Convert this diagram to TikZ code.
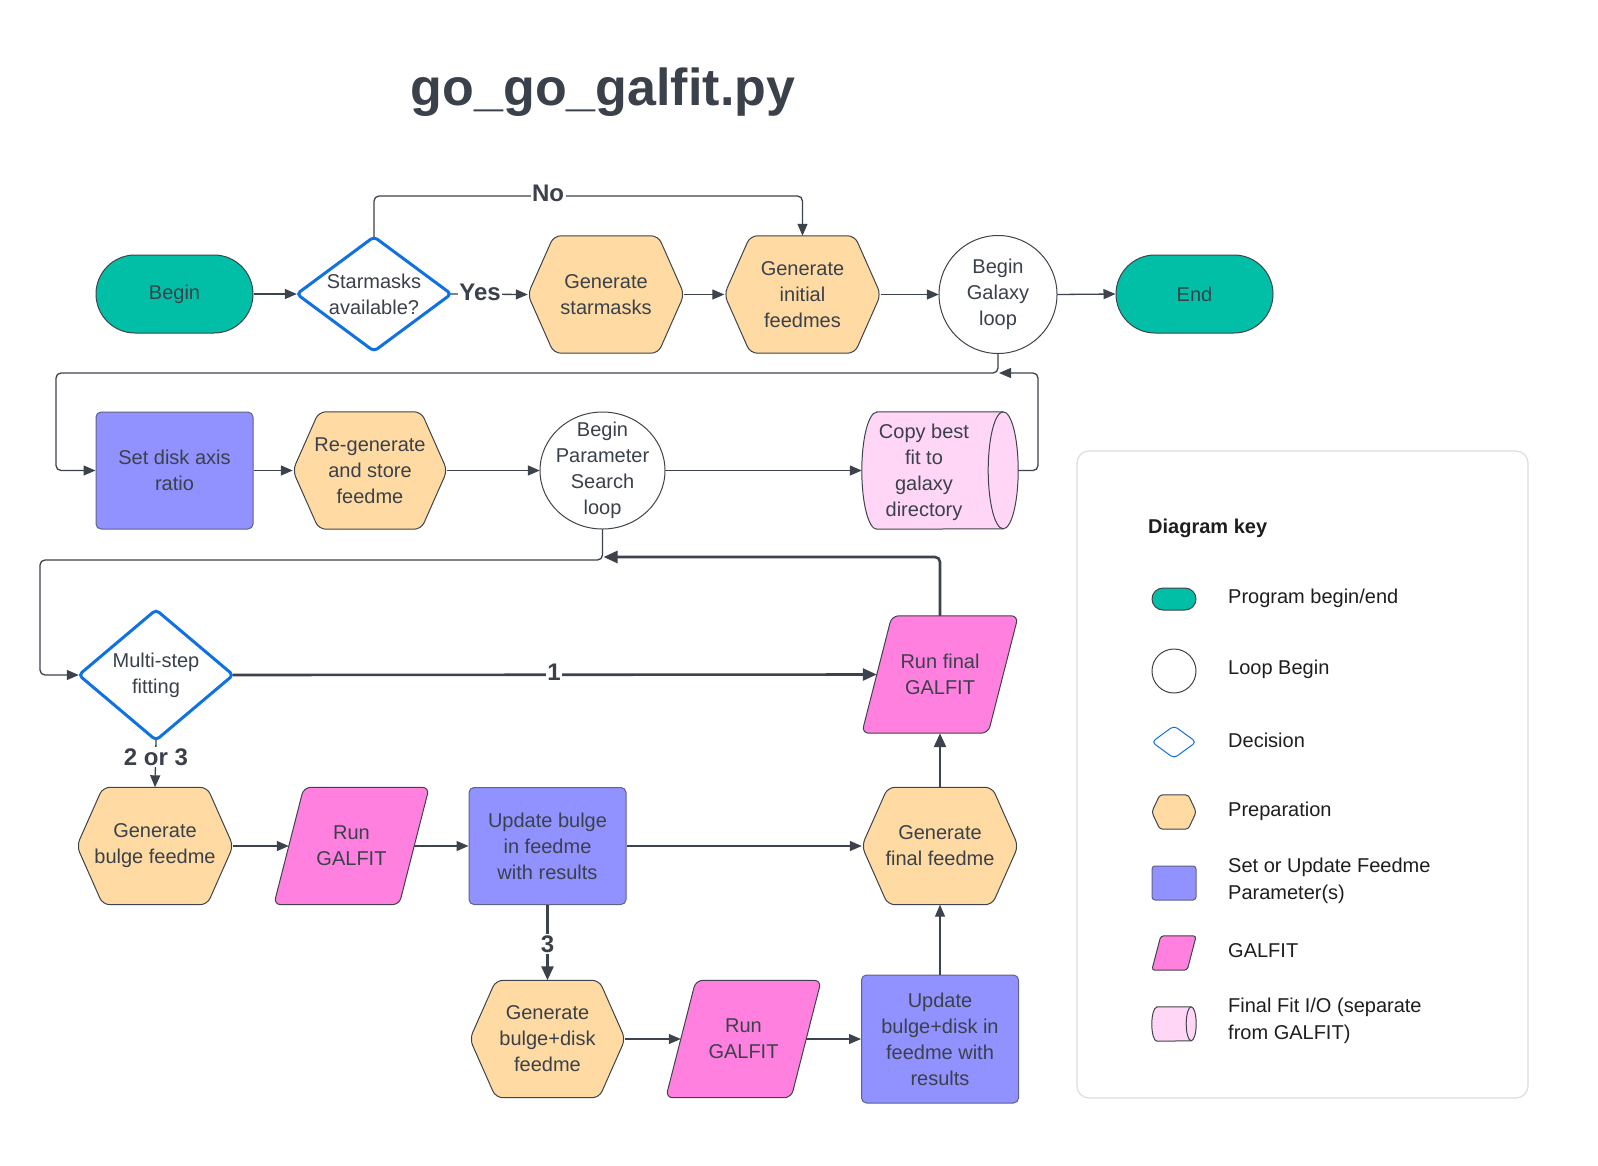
\documentclass[tikz,border=0pt]{standalone}
\usepackage{fontspec}
\setmainfont{Liberation Sans}
\usetikzlibrary{arrows.meta,shapes.geometric}
\definecolor{txt}{HTML}{3A414A}
\definecolor{ln}{HTML}{3D434C}
\definecolor{cTeal}{HTML}{00BFA6}
\definecolor{cOrange}{HTML}{FFDBA3}
\definecolor{cPurple}{HTML}{9191FF}
\definecolor{cPink}{HTML}{FF80DF}
\definecolor{cLpink}{HTML}{FFD6F6}
\definecolor{cBlue}{HTML}{1071E5}
\definecolor{cBorder}{HTML}{3F434B}
\definecolor{cBorderP}{HTML}{5F628A}
\definecolor{cKey}{HTML}{DDDDDD}
\definecolor{cKtxt}{HTML}{1E1E1E}
\newcommand\nodefont{\fontsize{20}{26}\selectfont}
\newcommand\lblfont{\fontsize{24}{28}\selectfont\bfseries}
\newcommand\titlefont{\fontsize{52}{60}\selectfont\bfseries}
\newcommand\keyfont{\fontsize{20}{27}\selectfont}
\pgfdeclarelayer{bg}
\pgfsetlayers{bg,main}
\tikzset{
  base/.style={inner sep=0pt, align=center, text=txt, font=\nodefont},
  shp/.style={minimum width=156pt, minimum height=117pt},
  conn/.style={draw=ln, line width=1.3pt, rounded corners=5pt},
  arr/.style={conn, -{Triangle[length=12pt,width=10pt]}},
  arrthick/.style={draw=ln, line width=2.6pt, rounded corners=5pt, -{Triangle[length=14pt,width=12pt]}},
  lbl/.style={fill=white, inner sep=1.5pt, text=txt, font=\lblfont},
  outl/.style={draw=cBorder, line width=1pt, rounded corners=7pt},
  pill/.style={base, draw=cBorder, line width=1pt, fill=cTeal, rounded corners=39pt, minimum width=157pt, minimum height=78pt},
  rectbox/.style={base, draw=cBorderP, line width=1pt, fill=cPurple, rounded corners=5pt, minimum width=157pt, minimum height=117pt},
  keytext/.style={anchor=west, align=left, inner sep=0pt, text=cKtxt, font=\keyfont},
}
\newcommand\hexo[4][]{\filldraw[outl, fill=#4, #1] (#2.west) -- ([xshift=#3]#2.north west) -- ([xshift=-#3]#2.north east) -- (#2.east) -- ([xshift=-#3]#2.south east) -- ([xshift=#3]#2.south west) -- cycle;}
\newcommand\parao[4][]{\filldraw[outl, fill=#4, #1] ([xshift=#3]#2.north west) -- (#2.north east) -- ([xshift=-#3]#2.south east) -- (#2.south west) -- cycle;}
\newcommand\diao[2]{\filldraw[draw=cBlue, fill=white, line width=#2, rounded corners=4pt] (#1.west) -- (#1.north) -- (#1.east) -- (#1.south) -- cycle;}
\newcommand\cylo[3]{\filldraw[outl, rounded corners=0pt, fill=cLpink] ([xshift=#2]#1.north west) -- ([xshift=-#2]#1.north east) arc[start angle=90,end angle=-90,x radius=#2,y radius=#3] -- ([xshift=#2]#1.south west) arc[start angle=-90,end angle=-270,x radius=#2,y radius=#3] -- cycle;
 \draw[outl, rounded corners=0pt] ([xshift=-#2]#1.north east) arc[start angle=90,end angle=270,x radius=#2,y radius=#3];}
\begin{document}
\begin{tikzpicture}[x=1pt,y=-1pt]
\useasboundingbox (0,0) rectangle (1598,1165);
\begin{pgfonlayer}{bg}
\fill[white] (0,0) rectangle (1598,1165);
\end{pgfonlayer}

\node[base, font=\titlefont] (title) at (603,92) {go\_go\_galfit.py};

% Row 1
\node[pill] (begin) at (174.5,294) {Begin};
\node[base, minimum width=154pt, minimum height=114pt] (sm) at (374,294) {Starmasks\\available?};
\node[base, shp] (gs) at (606,294.5) {Generate\\starmasks};
\node[base, shp] (gi) at (802.5,294.5) {Generate\\initial\\feedmes};
\node[base, minimum width=118pt, minimum height=118pt] (gl) at (998,294.5) {Begin\\Galaxy\\loop};
\node[pill] (end) at (1194.5,294) {End};

% Row 2
\node[rectbox] (sd) at (174.5,470.5) {Set disk axis\\ratio};
\node[base, shp, minimum width=154pt] (rg) at (370,470.5) {Re-generate\\and store\\feedme};
\node[base, minimum width=125pt, minimum height=117pt] (ps) at (602.5,470.5) {Begin\\Parameter\\Search\\loop};
\node[base, shp, label={[base, xshift=-16pt, yshift=-2pt]center:{Copy best\\fit to\\galaxy\\directory}}] (cp) at (940,470.5) {};

% Row 3
\node[base, minimum width=154pt, minimum height=130pt] (ms) at (156,675) {Multi-step\\fitting};
\node[base, shp] (rf) at (940,674.5) {Run final\\GALFIT};

% Row 4
\node[base, shp] (gb) at (155,846) {Generate\\bulge feedme};
\node[base, shp, minimum width=155pt] (r1) at (351.5,846) {Run\\GALFIT};
\node[rectbox] (ub) at (547.5,846) {Update bulge\\in feedme\\with results};
\node[base, shp] (gf) at (940,846) {Generate\\final feedme};

% Row 5
\node[base, shp, minimum width=155pt] (gbd) at (547.5,1039) {Generate\\bulge+disk\\feedme};
\node[base, shp, minimum width=155pt] (r2) at (743.5,1039) {Run\\GALFIT};
\node[rectbox, minimum height=128pt] (ubd) at (940,1039) {Update\\bulge+disk in\\feedme with\\results};

\begin{pgfonlayer}{bg}
  \diao{sm}{3pt}
  \diao{ms}{3pt}
  \hexo{gs}{26pt}{cOrange}
  \hexo{gi}{26pt}{cOrange}
  \hexo{rg}{26pt}{cOrange}
  \hexo{gb}{26pt}{cOrange}
  \hexo{gf}{26pt}{cOrange}
  \hexo{gbd}{26pt}{cOrange}
  \parao{rf}{30pt}{cPink}
  \parao{r1}{30pt}{cPink}
  \parao{r2}{30pt}{cPink}
  \filldraw[draw=cBorder, line width=1pt, fill=white] (gl.center) circle[radius=59pt];
  \filldraw[draw=cBorder, line width=1pt, fill=white] (ps.center) ellipse[x radius=62.5pt, y radius=58.5pt];
  \cylo{cp}{15pt}{58.5pt}
\end{pgfonlayer}

% Connectors row 1
\draw[arr] (begin.east) -- (sm.west);
\draw[arr] (sm.east) -- (gs.west);
\node[lbl] (yes) at (480,292) {Yes};
\draw[arr] (sm.north) -- (374,196) -- (802.5,196) -- (gi.north);
\node[lbl] (no) at (548,193) {No};
\draw[arr] (gs.east) -- (gi.west);
\draw[arr] (gi.east) -- (gl.west);
\draw[arr] (gl.east) -- (end.west);

% Row 2
\draw[arr] (gl.south) -- (998,373) -- (56,373) -- (56,470.5) -- (sd.west);
\draw[arr] (sd.east) -- (rg.west);
\draw[arr] (rg.east) -- (ps.west);
\draw[arr] (ps.east) -- (cp.west);
\coordinate (gj) at (999,373);
\draw[arr] (cp.east) -- (1038,470.5) -- (1038,373) -- (gj);

% Row 3
\draw[arr] (ps.south) -- (602.5,560) -- (40,560) -- (40,675) -- (ms.west);
\draw[arrthick] (ms.east) -- ([xshift=15pt]rf.west);
\node[lbl] (one) at (554,672) {1};
\coordinate (pj) at (603.5,557);
\draw[arrthick] (rf.north) -- (940,557) -- (pj);
\draw[arr] (ms.south) -- (gb.north);
\node[lbl] (twothree) at (156,757) {2 or 3};

% Row 4
\draw[arr] (gb.east) -- ([xshift=15pt]r1.west);
\draw[arr] ([xshift=-15pt]r1.east) -- (ub.west);
\draw[arr] (ub.east) -- (gf.west);
\draw[arrthick] (gf.north) -- (rf.south);
\draw[arrthick] (ub.south) -- (gbd.north);
\node[lbl] (three) at (547.5,944) {3};

% Row 5
\draw[arr] (gbd.east) -- ([xshift=15pt]r2.west);
\draw[arr] ([xshift=-15pt]r2.east) -- (ubd.west);
\draw[arr] (ubd.north) -- (gf.south);

% Legend
\node[draw=cKey, line width=1.2pt, rounded corners=12pt, minimum width=451pt, minimum height=647pt, inner sep=0pt] (key) at (1302.5,774.5) {};
\node[keytext, font=\keyfont\bfseries] (keyt) at (1148,528) {Diagram key};
\node[draw=cBorder, line width=1pt, fill=cTeal, rounded corners=11pt, minimum width=44pt, minimum height=22pt, inner sep=0pt] (k1) at (1174,599) {};
\node[circle, draw=cBorder, line width=1pt, fill=white, minimum size=44pt, inner sep=0pt] (k2) at (1174,671) {};
\node[minimum width=44pt, minimum height=32pt, inner sep=0pt] (k3) at (1174,742) {};
\node[minimum width=44pt, minimum height=34pt, inner sep=0pt] (k4) at (1174,812) {};
\node[draw=cBorderP, line width=1pt, fill=cPurple, rounded corners=3pt, minimum width=44pt, minimum height=34pt, inner sep=0pt] (k5) at (1174,883) {};
\node[minimum width=44pt, minimum height=34pt, inner sep=0pt] (k6) at (1174,953) {};
\node[minimum width=44pt, minimum height=34pt, inner sep=0pt] (k7) at (1174,1024) {};
\diao{k3}{1pt}
\hexo[rounded corners=3pt]{k4}{8pt}{cOrange}
\parao[rounded corners=3pt]{k6}{9pt}{cPink}
\cylo{k7}{5pt}{17pt}
\node[keytext] (t1) at (1228,598) {Program begin/end};
\node[keytext] (t2) at (1228,669) {Loop Begin};
\node[keytext] (t3) at (1228,740) {Decision};
\node[keytext] (t4) at (1228,811) {Preparation};
\node[keytext] (t5) at (1228,881) {Set or Update Feedme\\Parameter(s)};
\node[keytext] (t6) at (1228,951) {GALFIT};
\node[keytext] (t7) at (1228,1021) {Final Fit I/O (separate\\from GALFIT)};
\end{tikzpicture}
\end{document}
